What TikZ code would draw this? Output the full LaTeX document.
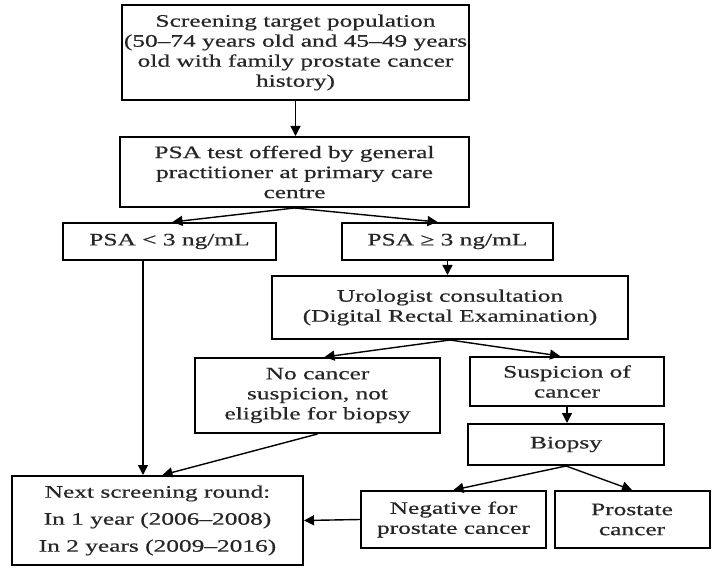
\documentclass[tikz,border=0pt]{standalone}
\usepackage{fontspec}
\setmainfont{Liberation Serif}[FakeStretch=1.45,FakeBold=0.6]
\usepackage{tikz}
\usetikzlibrary{arrows.meta,positioning,calc}

\begin{document}
\begin{tikzpicture}[
  x=1pt,y=-1pt,
  box/.style={draw, line width=2pt, align=center, font=\fontsize{17.5}{20}\selectfont, text=black!85, inner sep=2pt},
  arr/.style={-{Triangle[length=10pt,width=10pt]}, line width=1.4pt}
]
\useasboundingbox (0,0) rectangle (712,569);
\node[box, minimum width=347, minimum height=95] (scr) at (295.5,52.5) {Screening target population\\(50–74 years old and 45–49 years\\old with family prostate cancer\\history)};
\node[box, minimum width=349, minimum height=70] (gp) at (294.5,172) {PSA test offered by general\\practitioner at primary care\\centre};
\node[box, minimum width=213, minimum height=37] (low) at (169.5,241.5) {PSA < 3 ng/mL};
\node[box, minimum width=211, minimum height=37] (high) at (447.5,241.5) {PSA ≥ 3 ng/mL};
\node[box, minimum width=356, minimum height=63] (uro) at (450,307.5) {Urologist consultation\\(Digital Rectal Examination)};
\node[box, minimum width=245, minimum height=75] (nosus) at (317.5,395.5) {No cancer\\suspicion, not\\eligible for biopsy};
\node[box, minimum width=194, minimum height=49] (sus) at (567,381.5) {Suspicion of\\cancer};
\node[box, minimum width=196, minimum height=41] (bio) at (566,444.5) {Biopsy};
\node[box, minimum width=291, minimum height=89, font=\fontsize{17.5}{27}\selectfont] (next) at (157.5,520.5) {Next screening round:\\In 1 year (2006–2008)\\In 2 years (2009–2016)};
\node[box, minimum width=185, minimum height=57] (neg) at (453.5,519.5) {Negative for\\prostate cancer};
\node[box, minimum width=155, minimum height=57] (pca) at (632,519.5) {Prostate\\cancer};
\draw[arr] (scr.south) -- (scr.south |- gp.north);
\draw[arr] (gp.south) -- ([xshift=3pt]low.north);
\draw[arr] (gp.south) -- ([xshift=-10pt]high.north);
\draw[arr] ([xshift=-26.5pt]low.south) -- ([xshift=-26.5pt]low.south |- next.north);
\draw[arr] (high.south) -- (high.south |- uro.north);
\draw[arr] (uro.south) -- ([xshift=7pt]nosus.north);
\draw[arr] (uro.south) -- ([xshift=-7pt]sus.north);
\draw[arr] (nosus.south) -- ([xshift=5pt]next.north);
\draw[arr] (sus.south) -- (sus.south |- bio.north);
\draw[arr] (bio.south) -- (neg.north);
\draw[arr] (bio.south) -- (pca.north);
\draw[arr] (neg.west) -- (next.east);
\end{tikzpicture}
\end{document}
